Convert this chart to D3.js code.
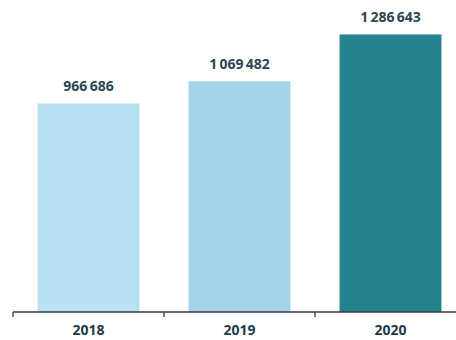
<!DOCTYPE html>
<html>
<head>
<meta charset="utf-8">
<script src="https://cdn.jsdelivr.net/npm/d3@7"></script>
<style>
  html, body { margin: 0; padding: 0; background: #fff; }
  svg { display: block; }
</style>
</head>
<body>
<svg id="chart"></svg>
<script>
// data
const years = ['2018', '2019', '2020'];
const values = [966686, 1069482, 1286643];
const colors = ['#b8e1f3', '#a4d3eb', '#25838f'];

const width = 456, height = 340;
const baseY = 312;

const svg = d3.select('#chart')
  .attr('width', width)
  .attr('height', height);

const x = d3.scaleBand()
  .domain(years)
  .range([13, 466])
  .paddingInner(0.325)
  .paddingOuter(0.1625);

const y = d3.scaleLinear()
  .domain([0, 1400000])
  .range([baseY, 10]);

// thousands grouped with a space, like the source
const fmt = v => d3.format(',')(v).replace(/,/g, '\u2009');

const rows = years.map((yr, i) => ({ year: yr, value: values[i], color: colors[i] }));

svg.selectAll('.bar')
  .data(rows)
  .enter()
  .append('rect')
  .attr('class', 'bar')
  .attr('x', d => x(d.year))
  .attr('y', d => y(d.value))
  .attr('width', x.bandwidth())
  .attr('height', d => baseY - y(d.value))
  .attr('fill', d => d.color);

svg.selectAll('.value')
  .data(rows)
  .enter()
  .append('text')
  .attr('class', 'value')
  .attr('x', d => x(d.year) + x.bandwidth() / 2)
  .attr('y', d => y(d.value) - 12)
  .attr('text-anchor', 'middle')
  .style('font-family', 'Open Sans, sans-serif')
  .style('font-weight', 'bold')
  .style('font-size', '14px')
  .style('fill', '#2b4655')
  .text(d => fmt(d.value));

// x axis: labels centred, tick marks on the band edges
const axis = svg.append('g')
  .attr('transform', `translate(0,${baseY})`)
  .call(d3.axisBottom(x).tickSize(0).tickPadding(13));

axis.select('.domain')
  .attr('d', `M${x.range()[0]},0H${width}`)
  .attr('stroke', '#3a3a3a')
  .attr('stroke-width', 1.3);

axis.selectAll('.tick text')
  .style('font-family', 'Open Sans, sans-serif')
  .style('font-weight', 'bold')
  .style('font-size', '14px')
  .style('fill', '#1f3b4a');

const edge = x.step() * x.paddingInner() / 2;
axis.selectAll('.edge')
  .data(years)
  .enter()
  .append('line')
  .attr('class', 'edge')
  .attr('x1', d => x(d) - edge)
  .attr('x2', d => x(d) - edge)
  .attr('y1', 0)
  .attr('y2', 5)
  .attr('stroke', '#3a3a3a')
  .attr('stroke-width', 1.3);
</script>
</body>
</html>
